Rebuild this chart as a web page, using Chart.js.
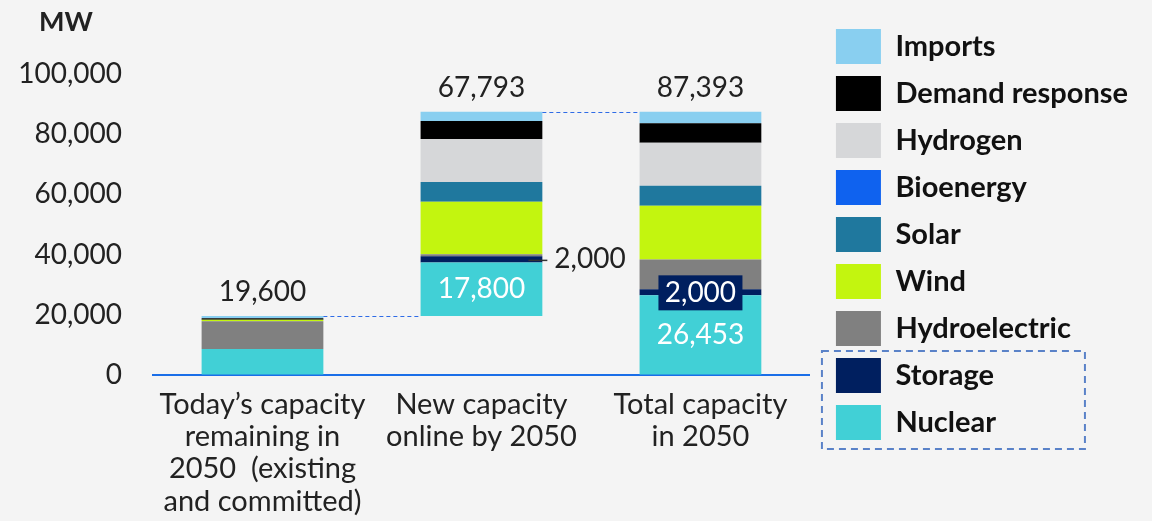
<!DOCTYPE html>
<html>
<head>
<meta charset="utf-8">
<script src="https://cdn.jsdelivr.net/npm/chart.js"></script>
<style>
  html, body { margin: 0; padding: 0; background: #f4f4f4; }
  #wrap { width: 1152px; height: 521px; }
</style>
</head>
<body>
<div id="wrap"><canvas id="capacityChart"></canvas></div>
<script>
// categories (multi-line x labels)
const categories = [
    ["Today\u2019s capacity", "remaining in", "2050  (existing", "and committed)"],
    ["New capacity", "online by 2050"],
    ["Total capacity", "in 2050"]
];

// invisible base so the middle bar floats (waterfall)
const baseValues = [0, 19600, 0];

// series values, MW
const nuclear        = [8653, 17800, 26453];
const storage        = [0, 2000, 2000];
const hydroelectric  = [9200, 700, 9900];
const wind           = [500, 17400, 17900];
const solar          = [0, 6600, 6600];
const bioenergy      = [0, 0, 0];
const hydrogen       = [0, 14300, 14300];
const demandResponse = [500, 6000, 6500];
const imports        = [747, 2993, 3740];

// labels
const totalLabels   = ["19,600", "67,793", "87,393"];
const nuclearLabels = ["", "17,800", "26,453"];
const storageLabels = ["", "2,000", "2,000"];
const yTicks = [0, 20000, 40000, 60000, 80000, 100000];

const FONT = "Lato, 'Open Sans', sans-serif";
const TEXT = "#222222";

// text on top of / inside the bars, connectors and legend frame
const annotations = {
    id: 'annotations',
    afterDatasetsDraw(chart) {
        const ctx = chart.ctx;
        const y = chart.scales.y;
        const topMeta = chart.getDatasetMeta(chart.data.datasets.length - 1);
        const nucMeta = chart.getDatasetMeta(1);
        const stoMeta = chart.getDatasetMeta(2);

        ctx.save();
        ctx.textAlign = 'center';
        ctx.textBaseline = 'middle';

        // totals above bars
        ctx.font = "28px " + FONT;
        ctx.fillStyle = TEXT;
        topMeta.data.forEach((bar, i) => {
            ctx.fillText(totalLabels[i], bar.x, bar.y - 24);
        });

        // nuclear values inside
        ctx.fillStyle = '#ffffff';
        nucMeta.data.forEach((bar, i) => {
            if (!nuclearLabels[i]) return;
            ctx.fillText(nuclearLabels[i], bar.x, (bar.y + bar.base) / 2);
        });

        // storage values
        stoMeta.data.forEach((bar, i) => {
            if (!storageLabels[i]) return;
            const cy = (bar.y + bar.base) / 2;
            if (i === 1) {
                // outside with leader line
                const right = bar.x + bar.width / 2;
                ctx.strokeStyle = '#333333';
                ctx.lineWidth = 1.5;
                ctx.beginPath();
                ctx.moveTo(right - 14, cy + 1);
                ctx.lineTo(right + 5, cy + 1);
                ctx.stroke();
                ctx.fillStyle = TEXT;
                ctx.textAlign = 'left';
                ctx.fillText(storageLabels[i], right + 12, cy);
                ctx.textAlign = 'center';
            } else {
                ctx.fillStyle = '#001f5f';
                ctx.fillRect(bar.x - 42, cy - 17, 84, 35);
                ctx.fillStyle = '#ffffff';
                ctx.fillText(storageLabels[i], bar.x, cy + 1);
            }
        });

        // dashed connectors between bars
        ctx.strokeStyle = '#2e6be6';
        ctx.lineWidth = 1.2;
        ctx.setLineDash([4, 3]);
        const levels = [totalLabels[0], totalLabels[0], totalLabels[2]].map(s => Number(s.replace(/,/g, '')));
        for (let i = 0; i < topMeta.data.length - 1; i++) {
            const a = topMeta.data[i];
            const b = topMeta.data[i + 1];
            const yy = Math.round(y.getPixelForValue(levels[i + 1])) + 0.5;
            ctx.beginPath();
            ctx.moveTo(a.x + a.width / 2, yy);
            ctx.lineTo(b.x - b.width / 2, yy);
            ctx.stroke();
        }

        // y unit
        ctx.setLineDash([]);
        ctx.font = "bold 27px " + FONT;
        ctx.fillStyle = TEXT;
        ctx.textAlign = 'left';
        ctx.fillText('MW', 39, 22);
        ctx.restore();
    },
    afterDraw(chart) {
        const boxes = chart.legend.legendHitBoxes;
        if (!boxes || boxes.length < 9) return;
        const ctx = chart.ctx;
        const a = boxes[7], b = boxes[8];
        ctx.save();
        ctx.strokeStyle = '#5a82c8';
        ctx.lineWidth = 2;
        ctx.setLineDash([7, 5]);
        ctx.strokeRect(a.left - 14, a.top - 7, 263, b.top + 35 - a.top + 16);
        ctx.restore();
    }
};

const ctx = document.getElementById('capacityChart').getContext('2d');
new Chart(ctx, {
    type: 'bar',
    data: {
        labels: categories,
        datasets: [
            { label: 'Base', data: baseValues, backgroundColor: 'rgba(0,0,0,0)' },
            { label: 'Nuclear', data: nuclear, backgroundColor: '#41d0d6' },
            { label: 'Storage', data: storage, backgroundColor: '#001f5f' },
            { label: 'Hydroelectric', data: hydroelectric, backgroundColor: '#808080' },
            { label: 'Wind', data: wind, backgroundColor: '#c3f50f' },
            { label: 'Solar', data: solar, backgroundColor: '#1f789e' },
            { label: 'Bioenergy', data: bioenergy, backgroundColor: '#0f62ef' },
            { label: 'Hydrogen', data: hydrogen, backgroundColor: '#d6d7d9' },
            { label: 'Demand response', data: demandResponse, backgroundColor: '#000000' },
            { label: 'Imports', data: imports, backgroundColor: '#89cff0' }
        ]
    },
    options: {
        responsive: true,
        maintainAspectRatio: false,
        animation: false,
        datasets: {
            bar: { categoryPercentage: 1, barPercentage: 0.556, borderWidth: 0 }
        },
        layout: { padding: { top: 17, right: 14, left: 0, bottom: 0 } },
        scales: {
            x: {
                stacked: true,
                grid: { display: false, drawTicks: false },
                border: { color: '#1a6ee8', width: 2 },
                ticks: {
                    color: TEXT,
                    padding: 13,
                    maxRotation: 0,
                    autoSkip: false,
                    font: { family: FONT, size: 29, lineHeight: 1.115 }
                },
                afterFit: s => { s.height = 146; }
            },
            y: {
                stacked: true,
                min: 0,
                max: 118900,
                grid: {
                    display: true,
                    drawOnChartArea: false,
                    drawTicks: true,
                    tickLength: 31,
                    color: 'rgba(0,0,0,0)',
                    tickColor: 'rgba(0,0,0,0)'
                },
                border: { display: false },
                ticks: {
                    color: TEXT,
                    padding: 0,
                    font: { family: FONT, size: 28 },
                    callback: v => v.toLocaleString('en-US')
                },
                afterBuildTicks: s => { s.ticks = yTicks.map(v => ({ value: v })); },
                afterFit: s => { s.width = 153; }
            },
            y2: {
                position: 'right',
                display: true,
                grid: { display: false, drawTicks: false },
                border: { display: false },
                ticks: { display: false },
                afterFit: s => { s.width = 14; }
            }
        },
        plugins: {
            tooltip: { enabled: false },
            legend: {
                position: 'right',
                align: 'start',
                reverse: true,
                maxWidth: 400,
                labels: {
                    filter: item => item.text !== 'Base',
                    boxWidth: 45,
                    boxHeight: 35,
                    padding: 12,
                    color: '#111111',
                    font: { family: FONT, size: 29, weight: 'bold' }
                }
            }
        }
    },
    plugins: [annotations]
});
</script>
</body>
</html>
